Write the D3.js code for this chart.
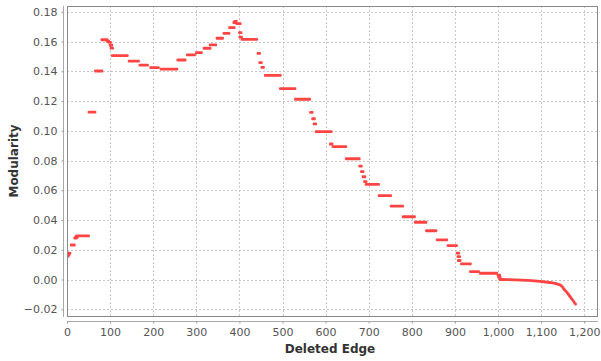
<!DOCTYPE html>
<html>
<head>
<meta charset="utf-8">
<script src="https://cdn.jsdelivr.net/npm/d3@7"></script>
<style>
  body { margin: 0; background: #fff; }
  .axis text { font-family: "DejaVu Sans", sans-serif; font-size: 11px; fill: #555; }
  .axis path { stroke: #aaa; }
  .axis line { stroke: #999; }
</style>
</head>
<body>
<div id="chart"></div>
<script>
// step runs: edge range and modularity (single points have start == end)
const segStart = [1, 3, 5, 12, 20, 22, 24, 53, 68, 83, 95, 99, 102, 104, 107, 146, 171, 196, 220, 259, 281, 302, 320, 334, 350, 366, 379, 389, 391, 396, 402, 403, 408, 445, 449, 454, 462, 497, 532, 567, 572, 575, 580, 613, 619, 650, 681, 685, 689, 692, 696, 726, 754, 782, 810, 836, 861, 886, 907, 909, 910, 917, 938, 961, 1002, 1003];
const segEnd   = [1, 3, 5, 15, 20, 22, 48, 63, 79, 91, 95, 99, 102, 104, 138, 164, 185, 210, 253, 272, 294, 310, 330, 343, 359, 374, 386, 389, 391, 400, 402, 403, 438, 445, 449, 454, 493, 527, 561, 567, 572, 575, 611, 613, 645, 676, 681, 685, 689, 692, 721, 749, 777, 804, 831, 854, 879, 902, 907, 909, 910, 934, 953, 995, 1002, 1003];
const segValue = [0.0158, 0.0168, 0.0177, 0.0232, 0.0279, 0.0285, 0.0293, 0.1126, 0.1402, 0.1612, 0.1602, 0.1594, 0.1575, 0.1556, 0.1505, 0.1469, 0.1442, 0.1424, 0.1415, 0.1476, 0.1511, 0.1525, 0.1555, 0.1577, 0.1622, 0.1655, 0.1694, 0.1728, 0.1735, 0.1721, 0.1660, 0.1630, 0.1615, 0.1521, 0.1458, 0.1427, 0.1373, 0.1283, 0.1212, 0.1124, 0.1081, 0.1046, 0.0994, 0.0911, 0.0893, 0.0812, 0.0763, 0.0725, 0.0691, 0.0658, 0.0640, 0.0564, 0.0494, 0.0422, 0.0385, 0.0328, 0.0266, 0.0228, 0.0178, 0.0154, 0.0128, 0.0105, 0.0053, 0.0042, 0.0029, 0.0016];

// the smooth tail after edge 1000
const tailX = [1004, 1040, 1070, 1098, 1120, 1135, 1145, 1150, 1152, 1158, 1163, 1168, 1173, 1178, 1180];
const tailY = [0.0000, -0.0002, -0.0006, -0.0012, -0.0020, -0.0028, -0.0038, -0.0050, -0.0062, -0.0080, -0.0098, -0.0118, -0.0138, -0.0158, -0.0165];

const xTicks = [0, 100, 200, 300, 400, 500, 600, 700, 800, 900, 1000, 1100, 1200];
const yTicks = [-0.02, 0, 0.02, 0.04, 0.06, 0.08, 0.10, 0.12, 0.14, 0.16, 0.18];

const W = 601, H = 361;
const plot = {left: 67, right: 598, top: 6, bottom: 317};
const red = "#ff4444";

const svg = d3.select("#chart").append("svg").attr("width", W).attr("height", H);

const x = d3.scaleLinear().domain([0, 1232]).range([plot.left, plot.right]);
const y = d3.scaleLinear().domain([-0.0252, 0.1839]).range([plot.bottom, plot.top]);

svg.append("rect")
  .attr("x", plot.left).attr("y", plot.top)
  .attr("width", plot.right - plot.left).attr("height", plot.bottom - plot.top)
  .attr("fill", "#fff");

// grid
const grid = svg.append("g").attr("stroke", "#c8c8c8").attr("stroke-dasharray", "2,2").attr("stroke-width", 1);
grid.selectAll(".gx").data(xTicks).enter().append("line")
  .attr("x1", d => Math.round(x(d)) + 0.5).attr("x2", d => Math.round(x(d)) + 0.5)
  .attr("y1", plot.top).attr("y2", plot.bottom);
grid.selectAll(".gy").data(yTicks).enter().append("line")
  .attr("y1", d => Math.round(y(d)) + 0.5).attr("y2", d => Math.round(y(d)) + 0.5)
  .attr("x1", plot.left).attr("x2", plot.right);

// points, clipped to the plot
svg.append("clipPath").attr("id", "clip").append("rect")
  .attr("x", plot.left).attr("y", plot.top)
  .attr("width", plot.right - plot.left).attr("height", plot.bottom - plot.top);
const marks = svg.append("g").attr("clip-path", "url(#clip)");

const segs = segStart.map((s, i) => ({s: s, e: segEnd[i], v: segValue[i]}));
marks.selectAll("rect.seg").data(segs).enter().append("rect")
  .attr("class", "seg")
  .attr("x", d => x(d.s) - 2.2)
  .attr("width", d => x(d.e) - x(d.s) + 4.4)
  .attr("y", d => y(d.v) - 1.4)
  .attr("height", 2.8)
  .attr("rx", 1)
  .attr("fill", red);

const tail = tailX.map((t, i) => [t, tailY[i]]);
marks.append("path")
  .datum(tail)
  .attr("d", d3.line().x(d => x(d[0])).y(d => y(d[1])))
  .attr("fill", "none")
  .attr("stroke", red)
  .attr("stroke-width", 2.8)
  .attr("stroke-linecap", "round")
  .attr("stroke-linejoin", "round");

// plot outline
svg.append("rect")
  .attr("x", plot.left + 0.5).attr("y", plot.top + 0.5)
  .attr("width", plot.right - plot.left - 1).attr("height", plot.bottom - plot.top - 1)
  .attr("fill", "none").attr("stroke", "#8a8a8a");

// axes, offset a little from the plot
svg.append("g").attr("class", "axis")
  .attr("transform", "translate(63.5,0)")
  .call(d3.axisLeft(y).tickValues(yTicks).tickFormat(d3.format(".2f")).tickSize(2).tickPadding(4))
  .call(g => g.select(".domain").attr("d", `M0,${plot.top}V${plot.bottom}`));

svg.append("g").attr("class", "axis")
  .attr("transform", "translate(0,321.5)")
  .call(d3.axisBottom(x).tickValues(xTicks).tickFormat(d3.format(",")).tickSize(2).tickPadding(5))
  .call(g => g.select(".domain").attr("d", `M${plot.left},0H${plot.right}`));

svg.append("text")
  .attr("x", 330).attr("y", 353)
  .attr("text-anchor", "middle")
  .attr("font-family", "DejaVu Sans, sans-serif").attr("font-weight", "bold").attr("font-size", 12)
  .attr("fill", "#333")
  .text("Deleted Edge");

svg.append("text")
  .attr("transform", "translate(18,161) rotate(-90)")
  .attr("text-anchor", "middle")
  .attr("font-family", "DejaVu Sans, sans-serif").attr("font-weight", "bold").attr("font-size", 12)
  .attr("fill", "#333")
  .text("Modularity");
</script>
</body>
</html>
